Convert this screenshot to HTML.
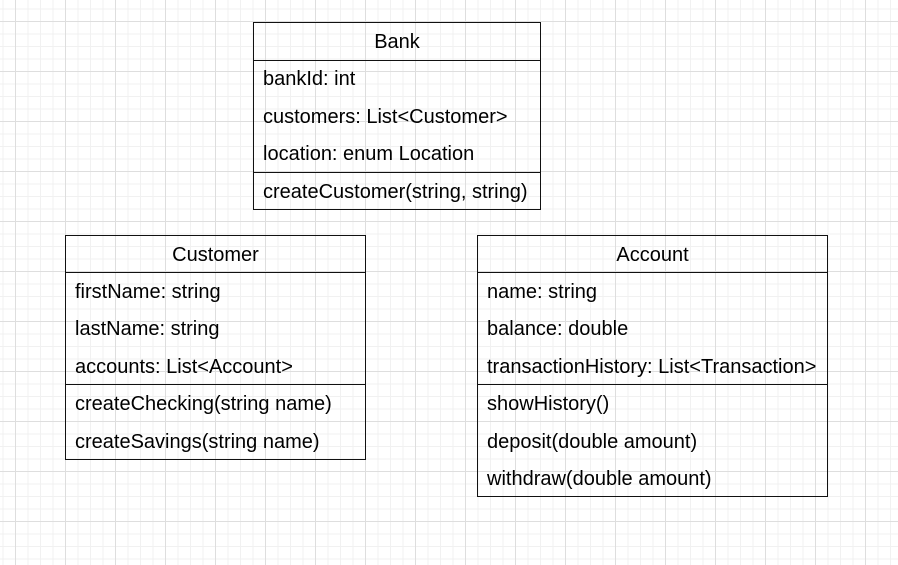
<!DOCTYPE html>
<html><head><meta charset="utf-8"><style>
html,body{margin:0;padding:0}
body{width:898px;height:565px;position:relative;overflow:hidden;background-color:#fff;
background-image:
linear-gradient(to right,#dedede 1px,transparent 1px),
linear-gradient(to bottom,#dedede 1px,transparent 1px),
linear-gradient(to right,#f1f1f1 1px,transparent 1px),
linear-gradient(to bottom,#f1f1f1 1px,transparent 1px);
background-size:50px 50px,50px 50px,12.5px 12.5px,12.5px 12.5px;
background-position:15px 21px,15px 21px,15px 21px,15px 21px;
font-family:"Liberation Sans",Arial,sans-serif;font-size:20px;color:#000}
.box{position:absolute;border:1.5px solid #111;box-sizing:border-box}
.h{position:absolute;left:0;right:0;text-align:center;line-height:37px;margin-top:1px}
.t{position:absolute;left:9px;line-height:37px;white-space:nowrap;margin-top:1px}
.l{position:absolute;left:0;right:0;height:0;border-top:1.5px solid #111}
</style></head><body>

<div class="box" style="left:253px;top:22px;width:288px;height:188px">
<div class="h" style="top:0">Bank</div>
<div class="l" style="top:37px"></div>
<div class="t" style="top:37px">bankId: int</div>
<div class="t" style="top:75px">customers: List&lt;Customer&gt;</div>
<div class="t" style="top:112px">location: enum Location</div>
<div class="l" style="top:149px"></div>
<div class="t" style="top:150px">createCustomer(string, string)</div>
</div>

<div class="box" style="left:65px;top:235px;width:301px;height:225px">
<div class="h" style="top:0">Customer</div>
<div class="l" style="top:36px"></div>
<div class="t" style="top:37px">firstName: string</div>
<div class="t" style="top:74px">lastName: string</div>
<div class="t" style="top:112px">accounts: List&lt;Account&gt;</div>
<div class="l" style="top:148px"></div>
<div class="t" style="top:149px">createChecking(string name)</div>
<div class="t" style="top:187px">createSavings(string name)</div>
</div>

<div class="box" style="left:477px;top:235px;width:351px;height:262px">
<div class="h" style="top:0">Account</div>
<div class="l" style="top:36px"></div>
<div class="t" style="top:37px">name: string</div>
<div class="t" style="top:74px">balance: double</div>
<div class="t" style="top:112px">transactionHistory: List&lt;Transaction&gt;</div>
<div class="l" style="top:148px"></div>
<div class="t" style="top:149px">showHistory()</div>
<div class="t" style="top:187px">deposit(double amount)</div>
<div class="t" style="top:224px">withdraw(double amount)</div>
</div>

</body></html>
